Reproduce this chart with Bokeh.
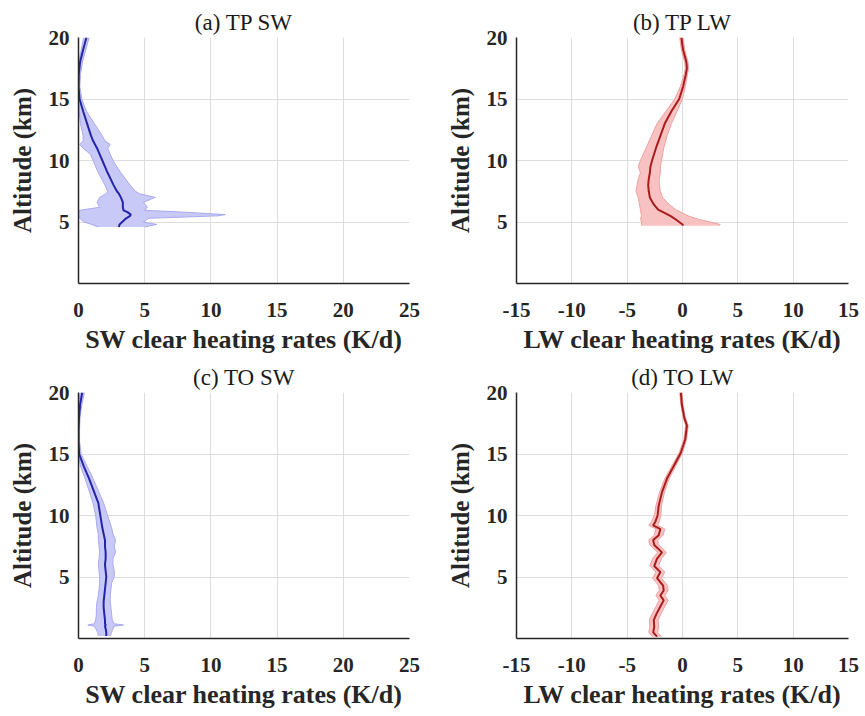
from bokeh.plotting import figure
from bokeh.layouts import column, row
from bokeh.models import FixedTicker, Range1d
from bokeh.embed import file_html
from bokeh.resources import INLINE

# ---------------- data ----------------
yticks = [5, 10, 15, 20]
xticks_sw = [0, 5, 10, 15, 20, 25]
xticks_lw = [-15, -10, -5, 0, 5, 10, 15]

# (a) TP SW
alt_a = [20, 19, 18, 17, 16, 15, 14, 13, 12, 11.6, 11.3, 11.0, 10.5, 10, 9, 8, 7.5, 7.3, 7.0,
         6.6, 6.2, 5.95, 5.8, 5.6, 5.5, 5.3, 5.0, 4.8, 4.6]
mean_a = [0.6, 0.35, 0.12, 0.02, 0.0, 0.08, 0.35, 0.65, 0.95, 1.1, 1.25, 1.4, 1.6, 1.8, 2.2, 2.65,
          2.9, 3.05, 3.2, 3.35, 3.35, 3.4, 3.7, 3.95, 3.9, 3.6, 3.3, 3.1, 3.05]
low_a = [0.4, 0.2, 0.03, 0.0, 0.0, 0.0, 0.05, 0.15, 0.35, 0.35, 0.1, 0.35, 0.9, 1.1, 1.5, 2.0,
         2.2, 2.1, 1.6, 1.4, 1.6, 0.1, 0.0, 0.0, 0.0, 0.1, 0.4, 1.0, 1.5]
up_a = [0.8, 0.55, 0.3, 0.15, 0.1, 0.25, 0.6, 1.2, 1.8, 2.0, 2.4, 2.2, 2.4, 2.6, 3.2, 3.9,
        4.3, 4.6, 5.8, 4.9, 5.2, 5.0, 8.0, 11.1, 10.5, 5.3, 4.9, 5.9, 5.0]

# (b) TP LW
alt_b = [20, 19, 18, 17.5, 17, 16, 15, 14, 13, 12, 11, 10, 9.5, 9, 8.5, 8, 7.5, 7, 6.5, 6,
         5.5, 5.2, 5.0, 4.8, 4.7]
mean_b = [-0.1, 0.05, 0.35, 0.4, 0.3, 0.05, -0.3, -1.0, -1.6, -2.0, -2.4, -2.75, -2.9, -2.95,
          -3.05, -3.1, -3.05, -2.95, -2.65, -2.2, -1.1, -0.6, -0.3, 0.0, 0.05]
up_b = [0.05, 0.2, 0.5, 0.55, 0.45, 0.25, 0.0, -0.5, -1.0, -1.4, -1.7, -1.9, -2.0, -2.0, -2.1,
        -2.1, -2.0, -1.8, -1.3, -0.6, 0.5, 1.5, 2.5, 3.4, 3.3]
low_b = [-0.25, -0.1, 0.2, 0.25, 0.15, -0.2, -0.7, -1.5, -2.3, -2.8, -3.3, -3.8, -4.0, -3.8,
         -4.0, -4.1, -4.2, -4.0, -3.9, -3.8, -3.7, -3.8, -3.7, -3.7, -3.7]

# (c) TO SW
alt_c = [20, 19, 18, 17, 16, 15, 14, 13, 12, 11, 10, 9, 8.5, 8, 7.5, 7, 6.5, 6, 5.5, 5, 4.5,
         4, 3.5, 3, 2.5, 2, 1.5, 1.2, 1.1, 1.0, 0.8, 0.5, 0.2]
mean_c = [0.28, 0.12, 0.04, 0.0, 0.0, 0.05, 0.4, 0.8, 1.15, 1.5, 1.65, 1.8, 1.9, 2.0, 2.0, 2.05,
          2.05, 2.0, 2.05, 2.1, 2.05, 2.0, 1.95, 1.9, 1.9, 1.95, 2.0, 2.0, 2.05, 2.0, 2.05, 2.1, 2.1]
up_c = [0.45, 0.25, 0.12, 0.08, 0.08, 0.2, 0.65, 1.1, 1.5, 1.9, 2.2, 2.5, 2.6, 2.8, 2.7, 2.8,
        2.6, 2.6, 2.7, 2.7, 2.5, 2.45, 2.4, 2.4, 2.45, 2.5, 2.55, 2.7, 3.4, 2.7, 2.6, 2.5, 2.4]
low_c = [0.12, 0.02, 0.0, 0.0, 0.0, 0.0, 0.15, 0.5, 0.8, 1.1, 1.3, 1.4, 1.5, 1.5, 1.55, 1.6,
         1.55, 1.5, 1.55, 1.6, 1.6, 1.55, 1.5, 1.4, 1.35, 1.35, 1.3, 1.2, 0.7, 1.2, 1.3, 1.45, 1.5]

# (d) TO LW
alt_d = [20, 19, 18, 17.3, 16.2, 15.1, 14, 13, 11.9, 10.8, 10, 9.5, 9.2, 8.9, 8.4, 8.0, 7.6,
         7.0, 6.5, 5.9, 5.4, 4.9, 4.3, 3.9, 3.5, 3.1, 2.6, 2.0, 1.5, 0.95, 0.5, 0.15]
mean_d = [-0.15, -0.05, 0.15, 0.4, 0.25, -0.15, -0.8, -1.4, -1.85, -2.15, -2.25, -2.45, -2.65,
          -2.0, -2.15, -2.65, -2.55, -1.85, -2.3, -2.55, -2.0, -2.3, -1.75, -1.7, -2.0, -1.7,
          -2.0, -2.35, -2.6, -2.55, -2.65, -2.3]
up_d = [-0.05, 0.05, 0.25, 0.52, 0.37, 0.0, -0.62, -1.2, -1.63, -1.9, -1.95, -2.1, -2.25, -1.6,
        -1.75, -2.25, -2.15, -1.45, -1.9, -2.15, -1.6, -1.9, -1.35, -1.3, -1.6, -1.3, -1.6,
        -1.95, -2.2, -2.15, -2.25, -1.9]
low_d = [-0.25, -0.15, 0.05, 0.28, 0.13, -0.3, -0.98, -1.6, -2.07, -2.4, -2.55, -2.8, -3.05,
         -2.4, -2.55, -3.05, -2.95, -2.25, -2.7, -2.95, -2.4, -2.7, -2.15, -2.1, -2.4, -2.1,
         -2.4, -2.75, -3.0, -2.95, -3.05, -2.7]

SERIF = "Liberation Serif"
BLUE_FILL, BLUE_EDGE, BLUE_LINE = "#c9c9f7", "#a9a9ee", "#2424a8"
RED_FILL, RED_EDGE, RED_LINE = "#f8c2c2", "#efa0a0", "#a81c1c"


def make(title, xlabel, xr, xticks, alt, mean, low, up, fill, edge, line,
         width, height, bl, br, bt, bb, tstand):
    p = figure(width=width, height=height, x_range=Range1d(*xr), y_range=Range1d(0, 20),
               output_backend="svg", toolbar_location=None,
               min_border_left=bl, min_border_right=br, min_border_top=bt, min_border_bottom=bb)
    p.title.text = title
    p.title.align = "center"
    p.title.text_font = SERIF
    p.title.text_font_style = "normal"
    p.title.text_font_size = "23px"
    p.title.text_color = "#1a1a1a"
    p.title.standoff = tstand
    p.outline_line_color = None
    p.background_fill_color = "white"
    p.border_fill_color = "white"

    p.harea(x1=low, x2=up, y=alt, fill_color=fill, fill_alpha=1.0)
    p.line(x=low, y=alt, line_color=edge, line_width=1)
    p.line(x=up, y=alt, line_color=edge, line_width=1)
    p.line(x=mean, y=alt, line_color=line, line_width=2)

    p.xaxis.ticker = FixedTicker(ticks=xticks)
    p.yaxis.ticker = FixedTicker(ticks=yticks)
    p.xaxis.major_label_overrides = {t: str(t) for t in xticks}
    for ax in (p.xaxis[0], p.yaxis[0]):
        ax.axis_line_color = "#262626"
        ax.axis_line_width = 1.5
        ax.major_tick_in = 0
        ax.major_tick_out = 0
        ax.minor_tick_line_color = None
        ax.major_label_text_font = SERIF
        ax.major_label_text_font_style = "bold"
        ax.major_label_text_font_size = "21px"
        ax.major_label_text_color = "#262626"
        ax.axis_label_text_font = SERIF
        ax.axis_label_text_font_style = "bold"
        ax.axis_label_text_color = "#262626"
    p.xaxis.axis_label_text_font_size = "26px"
    p.yaxis.axis_label_text_font_size = "25px"
    p.xaxis.axis_label = xlabel
    p.yaxis.axis_label = "Altitude (km)"
    p.xaxis.major_label_standoff = 19
    p.xaxis.axis_label_standoff = 5
    p.yaxis.major_label_standoff = 9
    p.yaxis.axis_label_standoff = 10
    p.grid.grid_line_color = "#dedede"
    p.grid.grid_line_width = 1
    return p


p1 = make("(a) TP SW", "SW clear heating rates (K/d)", (0, 25), xticks_sw,
          alt_a, mean_a, low_a, up_a, BLUE_FILL, BLUE_EDGE, BLUE_LINE,
          433, 357, 78, 24, 37, 74, 5)
p2 = make("(b) TP LW", "LW clear heating rates (K/d)", (-15, 15), xticks_lw,
          alt_b, mean_b, low_b, up_b, RED_FILL, RED_EDGE, RED_LINE,
          427, 357, 83, 12, 37, 74, 5)
p3 = make("(c) TO SW", "SW clear heating rates (K/d)", (0, 25), xticks_sw,
          alt_c, mean_c, low_c, up_c, BLUE_FILL, BLUE_EDGE, BLUE_LINE,
          433, 357, 78, 24, 35, 76, 6)
p4 = make("(d) TO LW", "LW clear heating rates (K/d)", (-15, 15), xticks_lw,
          alt_d, mean_d, low_d, up_d, RED_FILL, RED_EDGE, RED_LINE,
          427, 357, 83, 12, 35, 76, 6)

layout = column(row(p1, p2), row(p3, p4))
open("out.html", "w").write(file_html(layout, INLINE))
